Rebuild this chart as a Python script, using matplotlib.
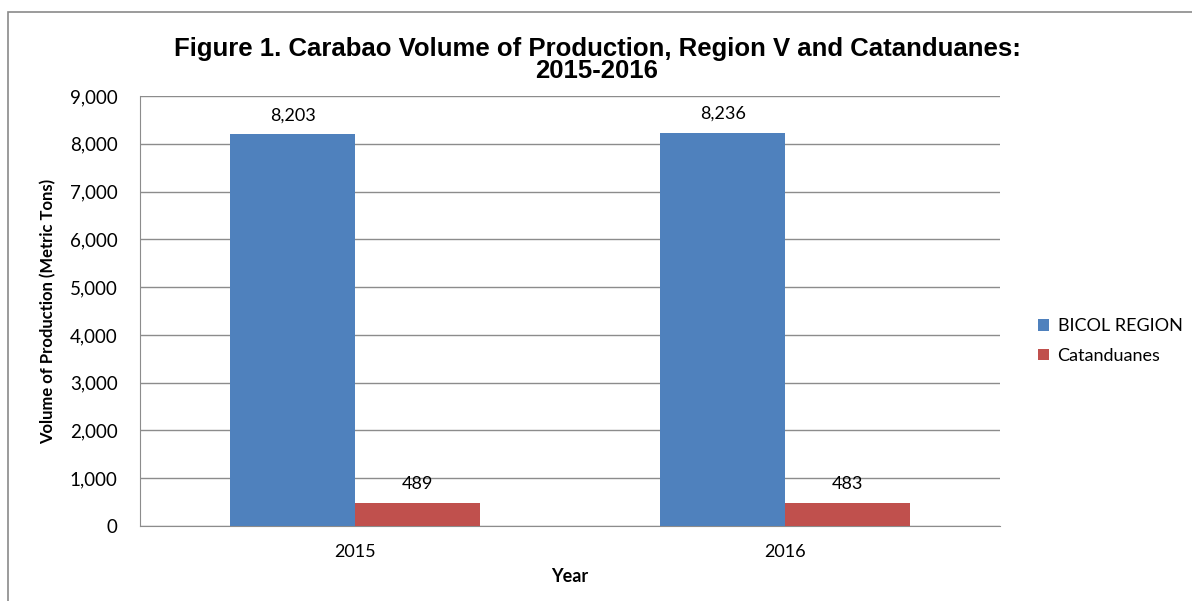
import numpy as np
import matplotlib.pyplot as plt
from matplotlib.patches import Rectangle

# data
years = ["2015", "2016"]
bicol = [8203, 8236]
catanduanes = [489, 483]
yticks = [0, 1000, 2000, 3000, 4000, 5000, 6000, 7000, 8000, 9000]

lbl_font = ["Lato", "DejaVu Sans"]

fig = plt.figure(figsize=(11.92, 6.01), dpi=100)
ax = fig.add_axes([140 / 1192, 75 / 601, 860 / 1192, 430 / 601])

# outer border of the chart
fig.patches.append(Rectangle((8 / 1192, -0.1), 1.2, (601 - 12) / 601 + 0.1,
                             transform=fig.transFigure, fill=False,
                             edgecolor="#8a8a8a", linewidth=1.2))

x = np.arange(len(years))
w = 0.29
b1 = ax.bar(x - w / 2, bicol, w, color="#4F81BD", label="BICOL REGION", zorder=3)
b2 = ax.bar(x + w / 2, catanduanes, w, color="#C0504D", label="Catanduanes", zorder=3)

for bars, vals in [(b1, bicol), (b2, catanduanes)]:
    for r, v in zip(bars, vals):
        ax.text(r.get_x() + r.get_width() / 2, v + 220, f"{v:,}",
                ha="center", va="bottom", fontsize=13, family=lbl_font)

ax.set_xlim(-0.5, 1.5)
ax.set_ylim(0, 9000)
ax.set_yticks(yticks)
ax.set_yticklabels([f"{t:,}" for t in yticks], family=lbl_font, fontsize=13.5)
ax.set_xticks(x)
ax.set_xticklabels(years, family=lbl_font, fontsize=13)
ax.tick_params(axis="y", length=0, pad=16)
ax.tick_params(axis="x", length=0, pad=13)

ax.grid(axis="y", color="#8c8c8c", linewidth=1, zorder=0)
for s in ["top", "right"]:
    ax.spines[s].set_visible(False)
ax.spines["left"].set_color("#8c8c8c")
ax.spines["bottom"].set_color("#8c8c8c")

ax.set_xlabel("Year", fontsize=13, fontweight="bold", family=lbl_font, labelpad=6)
ax.set_ylabel("Volume of Production (Metric Tons)", fontsize=12, fontweight="bold",
              family=lbl_font, labelpad=10)

fig.text(597 / 1192, 1 - 60 / 601,
         "Figure 1. Carabao Volume of Production, Region V and Catanduanes:\n2015-2016",
         ha="center", va="center", fontsize=18.5, fontweight="bold",
         family=["Liberation Sans", "DejaVu Sans"], linespacing=0.93)

ax.legend(loc="center left", bbox_to_anchor=(1.025, 0.43), frameon=False,
          prop={"family": lbl_font, "size": 13}, handlelength=0.6,
          handleheight=0.6, handletextpad=0.5, labelspacing=0.75)

fig.savefig("out.png", dpi=100)
